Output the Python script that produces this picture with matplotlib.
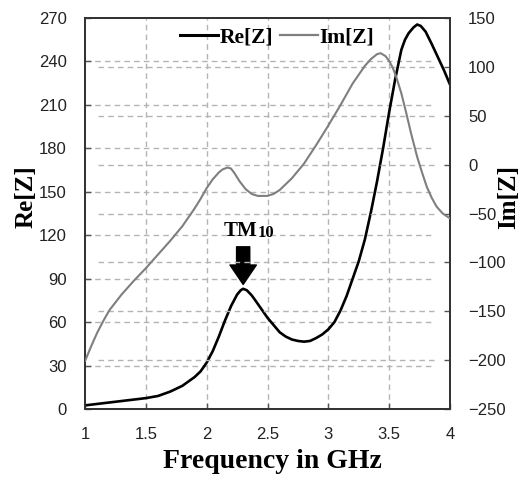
import matplotlib
matplotlib.use("Agg")
import matplotlib.pyplot as plt
from matplotlib.lines import Line2D
from matplotlib.patches import FancyArrowPatch

# ---- data ----
freq_re = [1.0, 1.1, 1.2, 1.3, 1.4, 1.5, 1.6, 1.7, 1.8, 1.85, 1.9, 1.95, 2.0, 2.05,
           2.1, 2.15, 2.2, 2.25, 2.28, 2.3, 2.33, 2.37, 2.4, 2.45, 2.5, 2.55, 2.6,
           2.65, 2.7, 2.75, 2.8, 2.85, 2.9, 2.95, 3.0, 3.05, 3.1, 3.15, 3.2, 3.25,
           3.3, 3.35, 3.4, 3.45, 3.5, 3.55, 3.6, 3.63, 3.66, 3.7, 3.73, 3.76, 3.8,
           3.85, 3.9, 3.95, 4.0]
re_z = [2.5, 3.5, 4.5, 5.5, 6.5, 7.5, 9, 12, 16, 19, 22, 26, 32, 40,
        50, 61, 71, 79, 82, 83, 82, 78.5, 75, 69, 63, 58, 53,
        50, 48, 47, 46.5, 47, 49, 51.5, 55, 60, 68, 78, 90, 102,
        117, 136, 157, 180, 205, 228, 248, 255, 259.5, 263.5, 265.5, 264.5, 260.5,
        252, 243, 234, 224]

freq_im = [1.0, 1.05, 1.1, 1.15, 1.2, 1.3, 1.4, 1.5, 1.6, 1.7, 1.8, 1.9, 1.95,
           2.0, 2.05, 2.1, 2.13, 2.17, 2.2, 2.23, 2.27, 2.32, 2.37, 2.42, 2.5, 2.55,
           2.6, 2.7, 2.8, 2.9, 3.0, 3.1, 3.2, 3.3, 3.35, 3.4, 3.43, 3.47, 3.5,
           3.53, 3.56, 3.6, 3.64, 3.68, 3.73, 3.77, 3.81, 3.85, 3.89, 3.94, 4.0]
im_z = [-201, -186, -172, -160, -149, -133, -119, -106, -92, -78, -63, -45, -35,
        -24, -15, -8, -5, -3, -4, -9, -17, -25, -30, -32, -32, -30,
        -26, -14, 1, 20, 40, 61, 83, 101, 108, 113, 114, 111, 106,
        99, 89, 73, 53, 32, 8, -8, -23, -34, -43, -50, -55]

x_ticks = [1, 1.5, 2, 2.5, 3, 3.5, 4]
x_tick_labels = ["1", "1.5", "2", "2.5", "3", "3.5", "4"]
re_ticks = [0, 30, 60, 90, 120, 150, 180, 210, 240, 270]
im_ticks = [-250, -200, -150, -100, -50, 0, 50, 100, 150]

# ---- style ----
SERIF = "Liberation Serif"
SANS = "Liberation Sans"
GRID = dict(color="#b4b4b4", lw=1.0, ls=(0, (4, 3)), zorder=0)

fig = plt.figure(figsize=(5.21, 4.80), dpi=100)
ax = fig.add_axes([85/521, 71/480, 365/521, 391/480])
ax2 = ax.twinx()

ax.set_xlim(1, 4)
ax.set_ylim(0, 270)
ax2.set_ylim(-250, 150)

# grid lines
for xv in x_ticks[1:-1]:
    ax.axvline(xv, **GRID)
for yv in re_ticks[1:-1]:
    ax.axhline(yv, xmin=0.0, xmax=0.96, **GRID)
for yv in im_ticks[1:-1]:
    ax2.axhline(yv, xmin=0.035, xmax=0.955, **GRID)

ax.plot(freq_re, re_z, color="black", lw=1.9, zorder=3,
        solid_joinstyle="round", solid_capstyle="round")
ax2.plot(freq_im, im_z, color="#7f7f7f", lw=1.5, zorder=3,
         solid_joinstyle="round", solid_capstyle="round")

ax.set_xticks(x_ticks)
ax.set_xticklabels(x_tick_labels)
ax.set_yticks(re_ticks)
ax2.set_yticks(im_ticks)

for a in (ax, ax2):
    for s in a.spines.values():
        s.set_color("#333333")
        s.set_linewidth(1.3)
    a.tick_params(direction="in", length=4, width=1, color="#555555",
                  labelsize=12, labelcolor="#222222")
    for lab in a.get_xticklabels() + a.get_yticklabels():
        lab.set_fontfamily(SANS)
ax.tick_params(axis="x", pad=13)
ax.tick_params(axis="y", pad=13)
ax2.tick_params(axis="y", pad=13)

# axis labels
fig.text(272/521, 1 - 462/480, "Frequency in GHz", fontfamily=SERIF,
         fontweight="bold", fontsize=20, ha="center", va="center")
fig.text(26/521, 1 - 197/480, "Re[Z]", fontfamily=SERIF, fontweight="bold",
         fontsize=18, rotation=90, ha="center", va="center")
fig.text(509/521, 1 - 197/480, "Im[Z]", fontfamily=SERIF, fontweight="bold",
         fontsize=18, rotation=90, ha="center", va="center")

# legend
handles = [Line2D([], [], color="black", lw=2.2), Line2D([], [], color="#7f7f7f", lw=1.6)]
ax.legend(handles, ["Re[Z]", "Im[Z]"], ncol=2, frameon=False,
          loc="center", bbox_to_anchor=(0.526, 0.95),
          handlelength=1.8, handletextpad=0.05, columnspacing=0.3,
          prop=dict(family=SERIF, weight="bold", size=15.5))

# TM10 annotation
ax.text(2.42, 123, "TM", fontfamily=SERIF, fontweight="bold", fontsize=15,
        ha="right", va="center", zorder=5)
ax.text(2.42, 121.5, "10", fontfamily=SERIF, fontweight="bold", fontsize=12,
        ha="left", va="center", zorder=5)
arrow = FancyArrowPatch((2.3, 112), (2.3, 86),
                        arrowstyle="simple,head_width=19,head_length=14,tail_width=9.5",
                        mutation_scale=1, color="black", shrinkA=0, shrinkB=0, zorder=5)
ax.add_patch(arrow)

fig.savefig("out.png", dpi=100)
